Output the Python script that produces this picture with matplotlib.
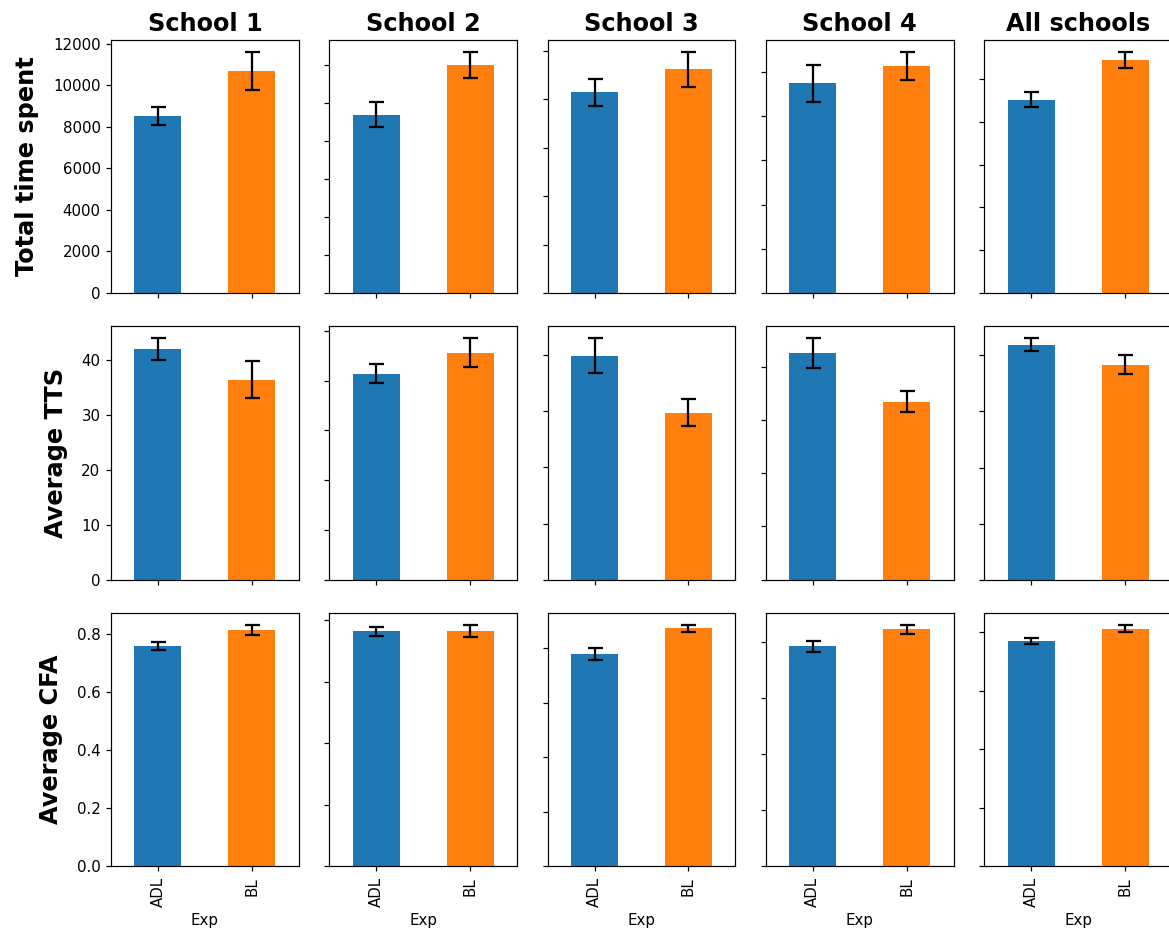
import matplotlib
matplotlib.use("Agg")
import matplotlib.pyplot as plt
from matplotlib.ticker import MultipleLocator

# columns / groups
schools = ["School 1", "School 2", "School 3", "School 4", "All schools"]
groups = ["ADL", "BL"]
metrics = ["Total time spent", "Average TTS", "Average CFA"]

# Total time spent (mean, std error) per school
time_adl = [8520, 9395, 8295, 9485, 9018]
time_bl = [10700, 12020, 9250, 10262, 10875]
time_adl_err = [440, 660, 565, 835, 352]
time_bl_err = [915, 700, 720, 645, 390]

# Average TTS
tts_adl = [41.95, 41.45, 39.85, 42.55, 41.87]
tts_bl = [36.4, 45.64, 29.69, 33.5, 38.37]
tts_adl_err = [1.98, 1.88, 3.12, 2.82, 1.16]
tts_bl_err = [3.35, 2.88, 2.41, 1.91, 1.66]

# Average CFA
cfa_adl = [0.757, 0.764, 0.780, 0.785, 0.771]
cfa_bl = [0.813, 0.764, 0.873, 0.845, 0.812]
cfa_adl_err = [0.0143, 0.014, 0.022, 0.019, 0.010]
cfa_bl_err = [0.017, 0.020, 0.0122, 0.0154, 0.012]

tick_steps = [2000, 10, 0.2]

rows = [
    (time_adl, time_bl, time_adl_err, time_bl_err),
    (tts_adl, tts_bl, tts_adl_err, tts_bl_err),
    (cfa_adl, cfa_bl, cfa_adl_err, cfa_bl_err),
]

fig, axes = plt.subplots(3, 5, figsize=(1169 / 108, 939 / 108), dpi=108)
fig.subplots_adjust(left=111 / 1169, right=1172 / 1169,
                    top=1 - 39.7 / 939, bottom=1 - 866.3 / 939,
                    wspace=0.161, hspace=0.1317)

for r, (adl, bl, adl_err, bl_err) in enumerate(rows):
    for c, school in enumerate(schools):
        ax = axes[r, c]
        ax.bar([0, 1], [adl[c], bl[c]], width=0.5,
               yerr=[adl_err[c], bl_err[c]],
               color=["#1f77b4", "#ff7f0e"],
               error_kw=dict(capsize=5, elinewidth=1.5, capthick=1.5, ecolor="black"))
        ax.set_xlim(-0.5, 1.5)
        ax.set_xticks([0, 1])
        ax.yaxis.set_major_locator(MultipleLocator(tick_steps[r]))
        if r == 0:
            ax.set_title(school, fontsize=16, fontweight="bold")
        if r == 2:
            ax.set_xticklabels(groups, rotation=90)
            ax.set_xlabel("Exp")
        else:
            ax.set_xticklabels([])
        if c == 0:
            ax.set_ylabel(metrics[r], fontsize=16, fontweight="bold", labelpad=9)
        else:
            ax.set_yticklabels([])

fig.savefig("out.png", dpi=108)
